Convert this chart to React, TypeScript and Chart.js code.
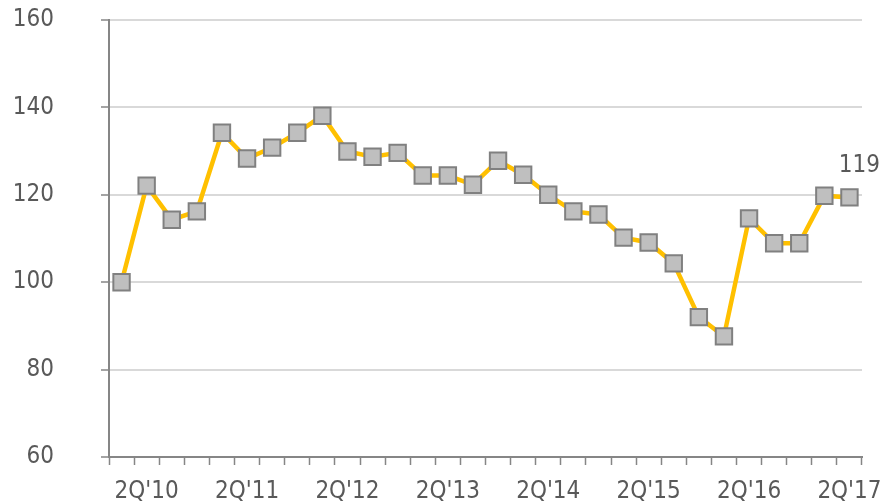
import React, { useEffect, useRef } from "react";
import { Chart, registerables } from "chart.js";

Chart.register(...registerables);

const quarters = [
  "1Q'10", "2Q'10", "3Q'10", "4Q'10",
  "1Q'11", "2Q'11", "3Q'11", "4Q'11",
  "1Q'12", "2Q'12", "3Q'12", "4Q'12",
  "1Q'13", "2Q'13", "3Q'13", "4Q'13",
  "1Q'14", "2Q'14", "3Q'14", "4Q'14",
  "1Q'15", "2Q'15", "3Q'15", "4Q'15",
  "1Q'16", "2Q'16", "3Q'16", "4Q'16",
  "1Q'17", "2Q'17",
];

const indexValues = [
  100, 122.1, 114.3, 116.2,
  134.2, 128.3, 130.8, 134.2,
  138.1, 129.9, 128.7, 129.6,
  124.4, 124.4, 122.3, 127.8,
  124.6, 120.0, 116.2, 115.5,
  110.2, 109.1, 104.3, 92.0,
  87.6, 114.6, 108.9, 108.9,
  119.8, 119.4,
];

const lastLabel = "119";
const yTicks = [60, 80, 100, 120, 140, 160];

const FONT = "'DejaVu Sans Condensed', 'Open Sans', 'DejaVu Sans', sans-serif";
const TEXT = "#595959";
const AXIS = "#868686";

const lastLabelPlugin = {
  id: "lastLabel",
  afterDatasetsDraw(chart: any) {
    const meta = chart.getDatasetMeta(0);
    const pt = meta.data[meta.data.length - 1];
    if (!pt) return;
    const ctx = chart.ctx;
    ctx.save();
    ctx.font = `24px ${FONT}`;
    ctx.fillStyle = TEXT;
    ctx.textAlign = "center";
    ctx.textBaseline = "middle";
    ctx.fillText(lastLabel, pt.x + 10, pt.y - 32);
    ctx.restore();
  },
};

export default function App() {
  const ref = useRef<HTMLCanvasElement>(null);
  useEffect(() => {
    if (!ref.current) return;
    const chart = new Chart(ref.current, {
      type: "line",
      data: {
        labels: quarters,
        datasets: [
          {
            data: indexValues,
            borderColor: "#FFC000",
            borderWidth: 4.5,
            pointStyle: "rect",
            pointRadius: 11.6,
            pointBackgroundColor: "#BFBFBF",
            pointBorderColor: "#808080",
            pointBorderWidth: 2,
            tension: 0,
          },
        ],
      },
      options: {
        animation: false,
        responsive: false,
        maintainAspectRatio: false,
        layout: { padding: { top: 20, right: 23, left: 0, bottom: 0 } },
        plugins: { legend: { display: false }, tooltip: { enabled: false } },
        scales: {
          x: {
            offset: true,
            afterFit: (axis: any) => {
              axis.height = 45;
              axis.paddingLeft = 0;
              axis.paddingRight = 0;
            },
            grid: {
              offset: true,
              drawOnChartArea: false,
              drawTicks: true,
              tickLength: 8,
              tickColor: AXIS,
              tickWidth: 1.5,
            },
            border: { color: AXIS, width: 2 },
            ticks: {
              autoSkip: false,
              maxRotation: 0,
              padding: 12,
              color: TEXT,
              font: { family: FONT, size: 24 },
              callback: (_v: any, i: number) => (i % 4 === 1 ? quarters[i] : ""),
            },
          },
          y: {
            min: yTicks[0],
            max: yTicks[yTicks.length - 1],
            afterBuildTicks: (axis: any) => {
              axis.ticks = yTicks.map((v) => ({ value: v }));
            },
            afterFit: (axis: any) => {
              axis.width = 109;
              axis.paddingTop = 12;
              axis.paddingBottom = 12;
            },
            grid: {
              color: "#D9D9D9",
              lineWidth: 2,
              tickLength: 8,
              tickColor: AXIS,
              tickWidth: 1.5,
            },
            border: { color: AXIS, width: 2 },
            ticks: {
              padding: 47,
              color: TEXT,
              font: { family: FONT, size: 24 },
            },
          },
        },
      },
      plugins: [lastLabelPlugin],
    });
    return () => chart.destroy();
  }, []);
  return (
    <div style={{ position: "fixed", left: 0, top: 0, width: 885, height: 502, background: "#fff" }}>
      <canvas ref={ref} width={885} height={502} style={{ width: 885, height: 502 }} />
    </div>
  );
}
